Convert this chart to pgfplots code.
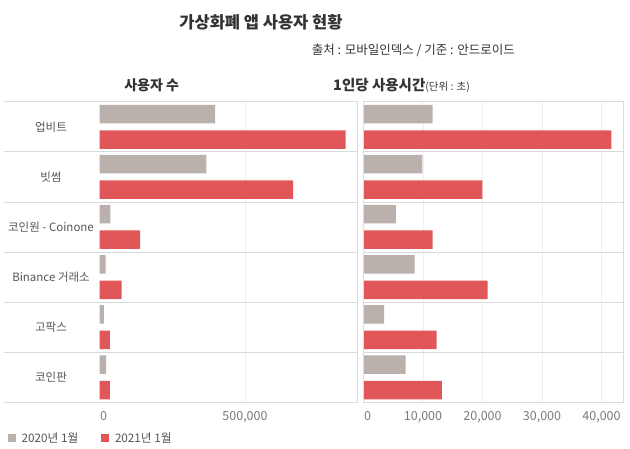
\documentclass[border=0pt]{standalone}
\usepackage{pgfplots}
\pgfplotsset{compat=1.18}
\usepackage{pgfplotstable}
\usepackage{fontspec}
\setmainfont{Noto Sans CJK KR}
\definecolor{gbar}{HTML}{BAB0AC}
\definecolor{rbar}{HTML}{E15759}
\definecolor{sepc}{HTML}{DADADA}
\definecolor{grd}{HTML}{EFEFEF}
\definecolor{tickc}{HTML}{7A7A7A}
\definecolor{lab}{HTML}{555555}
\definecolor{ttl}{HTML}{333333}

\pgfplotstableread{
y users20 users21 time20 time21
5 397000 846000 11630 41650
4 367000 665000 9890 19970
3 37000 140000 5460 11630
2 21000 76000 8600 20870
1 15000 36000 3450 12300
0 23000 36000 7090 13190
}\data

\pgfplotsset{panel/.style={
  scale only axis, height=300.6pt, ymin=-0.5, ymax=5.5,
  axis line style={draw=none},
  major tick length=0pt, minor tick length=0pt,
  ytick={0,...,5},
  minor ytick={0.5,1.5,2.5,3.5,4.5},
  yminorgrids, minor grid style={sepc, line width=0.8pt},
  xmajorgrids, major grid style={grd, line width=0.8pt},
  scaled x ticks=false,
  /pgf/number format/assume math mode=true,
  /pgf/number format/1000 sep={,},
  /pgf/number format/fixed,
  tick label style={font=\fontsize{12.5}{14}\selectfont, text=tickc},
  xticklabel style={anchor=base, yshift=-18.4pt},
  extra x ticks={0},
  extra x tick style={grid=none, xticklabel style={xshift=4pt}},
  xbar, bar width=18.5pt,
  clip=false,
}}

\begin{document}
\begin{tikzpicture}
\path[use as bounding box] (0pt,0pt) rectangle (630pt,448pt);

\begin{axis}[panel,
  at={(4pt,45.7pt)}, anchor=south west, width=353pt,
  xmin=-328179, xmax=884900,
  xtick={500000},
  yticklabels={코인판,고팍스,Binance 거래소,코인원 - Coinone,빗썸,업비트},
  yticklabel style={anchor=center, xshift=47pt, font=\fontsize{11.5}{13}\selectfont, text=lab},
  legend image code/.code={\fill[#1, draw=none] (0pt,-4pt) rectangle (8pt,4pt);},
  legend style={at={(0.0113,-0.12)}, anchor=west, draw=none, fill=none,
    inner sep=0pt, outer sep=0pt, nodes={inner sep=0pt},
    font=\fontsize{11.7}{13}\selectfont, text=lab,
    /tikz/every odd column/.append style={column sep=5.7pt},
    /tikz/every even column/.append style={column sep=23pt}},
  legend columns=2,
]
\addplot[fill=gbar, draw=none, bar shift=12.75pt] table[x=users20, y=y] {\data};
\addplot[fill=rbar, draw=none, bar shift=-12.75pt] table[x=users21, y=y] {\data};
\legend{2020년 1월, 2021년 1월}
\draw[sepc, line width=0.8pt] (rel axis cs:0,1) -- (rel axis cs:1,1) -- (rel axis cs:1,0) -- (rel axis cs:0,0);
\end{axis}

\begin{axis}[panel,
  at={(363.5pt,45.7pt)}, anchor=south west, width=259.5pt,
  xmin=0, xmax=43613,
  xtick={10000,20000,30000,40000},
  yticklabels={},
]
\addplot[fill=gbar, draw=none, bar shift=12.75pt] table[x=time20, y=y] {\data};
\addplot[fill=rbar, draw=none, bar shift=-12.75pt] table[x=time21, y=y] {\data};
\draw[sepc, line width=0.8pt] (rel axis cs:0,0) rectangle (rel axis cs:1,1);
\end{axis}

\node[anchor=base, inner sep=0pt, font=\fontsize{16.5}{18}\selectfont\bfseries, text=ttl] at (261pt,419.5pt) {가상화폐 앱 사용자 현황};
\node[anchor=base east, inner sep=0pt, font=\fontsize{12.5}{14}\selectfont, text=ttl] at (515pt,393.5pt) {출처 : 모바일인덱스 / 기준 : 안드로이드};
\node[anchor=base, inner sep=0pt, font=\fontsize{14}{16}\selectfont\bfseries, text=ttl] at (151.7pt,357pt) {사용자 수};
\node[anchor=base west, inner sep=0pt, text=ttl] at (333pt,357pt) {\fontsize{14.5}{16}\selectfont\bfseries 1인당 사용시간\fontsize{10.5}{12}\selectfont\mdseries(단위 : 초)};
\end{tikzpicture}
\end{document}
